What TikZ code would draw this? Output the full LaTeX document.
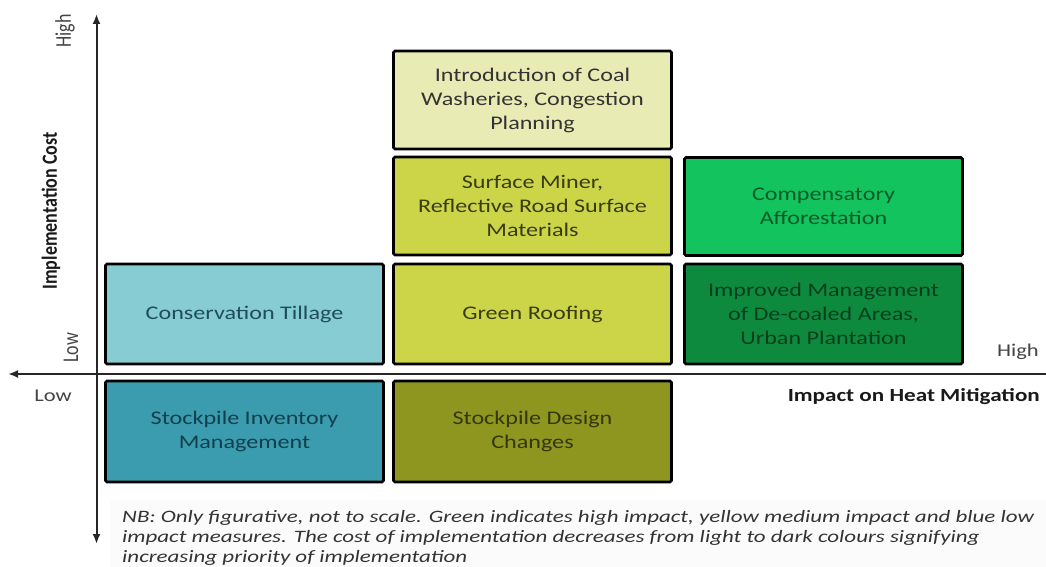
\documentclass[tikz,border=0pt]{standalone}
\usepackage{fontspec}
\usepackage{graphicx}
\setmainfont{Carlito}
\newfontfamily\widefont[FakeStretch=1.25]{Carlito}
\newfontfamily\notefont[FakeStretch=1.32]{Carlito}
\usetikzlibrary{arrows.meta}

\definecolor{ctfill}{HTML}{86CCD2}\definecolor{cttext}{HTML}{1E4E5A}
\definecolor{sifill}{HTML}{3A9CAE}\definecolor{sitext}{HTML}{113F4D}
\definecolor{grfill}{HTML}{CCD548}\definecolor{grtext}{HTML}{3A3C12}
\definecolor{icfill}{HTML}{E8ECB4}\definecolor{ictext}{HTML}{333333}
\definecolor{sdfill}{HTML}{8E961F}\definecolor{sdtext}{HTML}{34360E}
\definecolor{cafill}{HTML}{12C35E}\definecolor{catext}{HTML}{0B5A2A}
\definecolor{imfill}{HTML}{0E8A3F}\definecolor{imtext}{HTML}{063F1C}
\definecolor{labelgray}{HTML}{444444}
\definecolor{notebg}{HTML}{FBFBFB}

\tikzset{
  axtip/.tip={Latex[length=10bp,width=8bp]},
  measure/.style={draw=black, line width=2.6bp, rounded corners=1.5bp,
    minimum width=278bp, minimum height=98bp, inner sep=4bp, align=center,
    font=\widefont\fontsize{19.3bp}{24bp}\selectfont},
  axis/.style={line width=2bp, draw=black!85},
  axlabel/.style={text=labelgray, font=\fontsize{18bp}{21bp}\selectfont, inner sep=0pt},
}

\begin{document}
\begin{tikzpicture}[x=1bp,y=-1bp]
\useasboundingbox (0,0) rectangle (1046,567);

% note panel
\fill[notebg] (110,500) rectangle (1046,567);

% axes
\coordinate (ytop) at (96.5,14);
\coordinate (ybot) at (96.5,544);
\coordinate (xleft) at (8,374);
\coordinate (xright) at (1046,374);
\draw[axis, axtip-axtip] (ybot) -- (ytop);
\draw[axis, -axtip] (xright) -- (xleft);

% measures: columns = impact, rows = implementation cost
\node[measure, fill=icfill, text=ictext] (ic) at (532.5,100) {Introduction of Coal\\Washeries, Congestion\\Planning};
\node[measure, fill=grfill, text=grtext] (sm) at (532.5,206) {Surface Miner,\\Reflective Road Surface\\Materials};
\node[measure, fill=cafill, text=catext] (ca) at (823.5,206.5) {Compensatory\\Afforestation};
\node[measure, fill=ctfill, text=cttext, minimum height=100bp] (ct) at (244.5,314) {Conservation Tillage};
\node[measure, fill=grfill, text=grtext, minimum height=100bp] (gr) at (532.5,314) {Green Roofing};
\node[measure, fill=imfill, text=imtext, minimum height=100bp] (im) at (823.5,314) {Improved Management\\of De-coaled Areas,\\Urban Plantation};
\node[measure, fill=sifill, text=sitext, minimum height=101bp] (si) at (244.5,431.5) {Stockpile Inventory\\Management};
\node[measure, fill=sdfill, text=sdtext, minimum height=101bp] (sd) at (532.5,431.5) {Stockpile Design\\Changes};

% axis labels
\node[axlabel, rotate=90] (yhigh) at (65,31) {\scalebox{1}[1.25]{High}};
\node[axlabel, rotate=90, text=black!90, font=\bfseries\fontsize{18bp}{21bp}\selectfont] (ytitle) at (51,211) {\scalebox{1}[1.2]{Implementation Cost}};
\node[axlabel, rotate=90] (ylow) at (71,348) {\scalebox{1}[1.25]{Low}};
\node[axlabel, font=\widefont\fontsize{18bp}{21bp}\selectfont] (xlow) at (53,396) {Low};
\node[axlabel, font=\widefont\fontsize{18bp}{21bp}\selectfont] (xhigh) at (1018,352) {High};
\node[inner sep=0pt, anchor=east, text=black!90, font=\widefont\bfseries\fontsize{18.5bp}{21bp}\selectfont] (xtitle) at (1040,397) {Impact on Heat Mitigation};

% footnote
\node[anchor=north west, inner sep=0pt, align=left, text=black!80,
  font=\notefont\itshape\fontsize{17.4bp}{20bp}\selectfont] (note) at (122,510)
  {NB: Only figurative, not to scale. Green indicates high impact, yellow medium impact and blue low\\
   impact measures. The cost of implementation decreases from light to dark colours signifying\\
   increasing priority of implementation};
\end{tikzpicture}
\end{document}
